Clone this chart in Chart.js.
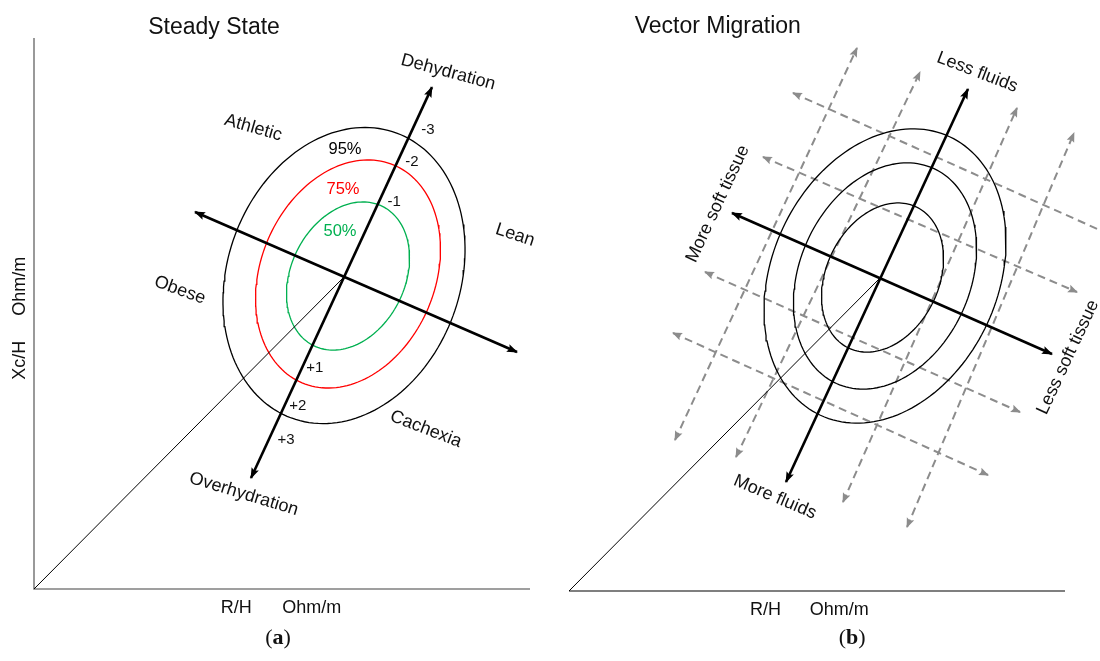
<!DOCTYPE html>
<html>
<head>
<meta charset="utf-8">
<script src="https://cdn.jsdelivr.net/npm/chart.js@4.4.1/dist/chart.umd.min.js"></script>
<style>
html,body{margin:0;padding:0;background:#fff;}
#wrap{position:relative;width:1100px;height:661px;overflow:hidden;}
canvas{position:absolute;top:0;}
#ca{left:0;}
#cb{left:550px;}
</style>
</head>
<body>
<div id="wrap">
<canvas id="ca" width="550" height="661"></canvas>
<canvas id="cb" width="550" height="661"></canvas>
</div>
<script>
// ================= DATA (arbitrary R/H and Xc/H units) =================
// ---- Panel (a) Steady State ----
const aAxisXRange = [0, 100];
const aAxisYRange = [0, 111];
const aCenter = [62.5, 62.85];
const aFluidAxisX = [43.75, 80.24];   // Overhydration -> Dehydration
const aFluidAxisY = [22.36, 101.1];
const aTissueAxisX = [97.38, 32.46];  // Lean/Cachexia -> Obese/Athletic
const aTissueAxisY = [47.74, 75.95];
const aEllipseNames = ['95%', '75%', '50%'];
const aEllipseCx = [62.5, 63.31, 63.31];
const aEllipseCy = [63.15, 63.46, 63.05];
const aEllipseMajor = [30.6, 23.81, 15.65];
const aEllipseMinor = [23.43, 17.56, 11.47];
const aEllipseTilt = [20.3, 22.9, 26.3];   // degrees from vertical
const aRegionLabels = ['Dehydration', 'Athletic', 'Lean', 'Obese', 'Cachexia', 'Overhydration'];
const aTickLabels = ['-3', '-2', '-1', '+1', '+2', '+3'];

// ---- Panel (b) Vector Migration ----
const bAxisXRange = [0, 100];
const bAxisYRange = [0, 111];
const bCenter = [62.7, 63.05];
const bFluidAxisX = [43.75, 80.44];   // More fluids -> Less fluids
const bFluidAxisY = [21.96, 101.13];
const bTissueAxisX = [97.38, 32.86];  // Less soft tissue -> More soft tissue
const bTissueAxisY = [47.74, 76.15];
const bEllipseCx = [63.71, 63.71, 63.21];
const bEllipseCy = [63.46, 63.46, 63.15];
const bEllipseMajor = [30.93, 23.77, 15.77];
const bEllipseMinor = [22.74, 17.18, 11.33];
const bEllipseTilt = [24.9, 24.3, 25.8];
// dashed migration vectors parallel to the fluid axis
const bFluidVecX1 = [21.37, 33.67, 55.24, 68.15];
const bFluidVecY1 = [30.42, 26.99, 17.93, 12.89];
const bFluidVecX2 = [58.06, 70.77, 90.32, 101.81];
const bFluidVecY2 = [109.39, 104.55, 97.30, 92.26];
// dashed migration vectors parallel to the soft-tissue axis
const bTissueVecX1 = [45.16, 39.11, 27.42, 20.97];
const bTissueVecY1 = [100.32, 87.43, 64.26, 51.97];
const bTissueVecX2 = [109.07, 102.42, 90.93, 84.48];
const bTissueVecY2 = [71.8, 60.23, 36.06, 23.37];
const bRegionLabels = ['Less fluids', 'More soft tissue', 'Less soft tissue', 'More fluids'];

// ================= HELPERS =================
function ellipsePoints(cx, cy, a, b, tiltDeg) {
  const th = tiltDeg * Math.PI / 180, pts = [];
  const N = 160;
  for (let k = 0; k <= N; k++) {
    const t = 2 * Math.PI * k / N;
    const ca = Math.cos(t) * a, sb = Math.sin(t) * b;
    pts.push({ x: cx + ca * Math.sin(th) + sb * Math.cos(th),
               y: cy + ca * Math.cos(th) - sb * Math.sin(th) });
  }
  return pts;
}
function seg(x, y) { return x.map((v, i) => ({ x: v, y: y[i] })); }
function lineDs(data, color, width, extra) {
  return Object.assign({ data, borderColor: color, backgroundColor: color, borderWidth: width,
    showLine: true, pointRadius: 0, pointHoverRadius: 0, fill: false, tension: 0, clip: false }, extra || {});
}

const arrowPlugin = {
  id: 'arrows',
  afterDatasetsDraw(chart) {
    const ctx = chart.ctx;
    chart.data.datasets.forEach((ds, i) => {
      if (!ds.arrow) return;
      const pts = chart.getDatasetMeta(i).data;
      if (pts.length < 2) return;
      const L = ds.arrowLength || 9, W = ds.arrowWidth || 4;
      const draw = (tip, from) => {
        const ang = Math.atan2(tip.y - from.y, tip.x - from.x);
        ctx.save();
        ctx.translate(tip.x, tip.y);
        ctx.rotate(ang);
        ctx.beginPath();
        ctx.moveTo(1, 0);
        ctx.lineTo(-L, W);
        ctx.lineTo(-L * 0.8, 0);
        ctx.lineTo(-L, -W);
        ctx.closePath();
        ctx.fillStyle = ds.borderColor;
        ctx.fill();
        ctx.restore();
      };
      const n = pts.length;
      if (ds.arrow === 'both' || ds.arrow === 'end') draw(pts[n - 1], pts[n - 2]);
      if (ds.arrow === 'both' || ds.arrow === 'start') draw(pts[0], pts[1]);
    });
  }
};

const textPlugin = {
  id: 'texts',
  afterDraw(chart, args, opts) {
    const ctx = chart.ctx, xs = chart.scales.x, ys = chart.scales.y;
    (opts.items || []).forEach(t => {
      ctx.save();
      ctx.translate(xs.getPixelForValue(t.x), ys.getPixelForValue(t.y));
      ctx.rotate((t.rot || 0) * Math.PI / 180);
      ctx.textBaseline = 'middle';
      ctx.fillStyle = t.color || '#111';
      if (t.parts) {
        let total = 0;
        t.parts.forEach(p => { ctx.font = p.font; total += ctx.measureText(p.text).width; });
        let cx = -total / 2;
        ctx.textAlign = 'left';
        t.parts.forEach(p => { ctx.font = p.font; ctx.fillText(p.text, cx, 0); cx += ctx.measureText(p.text).width; });
      } else {
        ctx.font = t.font;
        ctx.textAlign = 'center';
        ctx.fillText(t.text, 0, 0);
      }
      ctx.restore();
    });
  }
};

const SANS = '"Liberation Sans", Arial, Helvetica, sans-serif';
const F_LABEL = '18px ' + SANS;
const F_TITLE = '23px ' + SANS;
const F_AXIS = '18px ' + SANS;
const F_PCT = '16.5px ' + SANS;
const F_TICK = '15px ' + SANS;
const SERIF_N = '22px "Liberation Serif", "DejaVu Serif", serif';
const SERIF_B = 'bold 22px "Liberation Serif", "DejaVu Serif", serif';

function baseOptions(xr, yr, padding, items) {
  return {
    responsive: false, animation: false, devicePixelRatio: 1,
    layout: { padding },
    events: [],
    plugins: { legend: { display: false }, tooltip: { enabled: false }, texts: { items } },
    scales: {
      x: { type: 'linear', min: xr[0], max: xr[1], display: false },
      y: { type: 'linear', min: yr[0], max: yr[1], display: false }
    }
  };
}

// ================= PANEL (a) =================
const aColors = ['#000000', '#ff0000', '#00b050'];
const aDatasets = [
  lineDs(seg(aFluidAxisX, aFluidAxisY), '#000', 2.6, { arrow: 'both', arrowLength: 10, arrowWidth: 4 }),
  lineDs(seg(aTissueAxisX, aTissueAxisY), '#000', 2.6, { arrow: 'both', arrowLength: 10, arrowWidth: 4 }),
  lineDs([{ x: 0, y: 0 }, { x: aCenter[0], y: aCenter[1] }], '#000', 1),
  lineDs([{ x: 0, y: aAxisYRange[1] }, { x: 0, y: 0 }, { x: aAxisXRange[1], y: 0 }], '#808080', 1.6)
];
aEllipseNames.forEach((n, i) => {
  aDatasets.push(lineDs(ellipsePoints(aEllipseCx[i], aEllipseCy[i], aEllipseMajor[i], aEllipseMinor[i], aEllipseTilt[i]), aColors[i], 1.3, { label: n }));
});

const aItems = [
  { text: 'Steady State', x: 36.3, y: 113.0, font: F_TITLE },
  { text: aRegionLabels[0], x: 83.5, y: 104.1, rot: 15, font: F_LABEL },
  { text: aRegionLabels[1], x: 44.2, y: 92.9, rot: 16, font: F_LABEL },
  { text: aRegionLabels[2], x: 97.0, y: 71.3, rot: 18, font: F_LABEL },
  { text: aRegionLabels[3], x: 29.4, y: 60.2, rot: 20, font: F_LABEL },
  { text: aRegionLabels[4], x: 79.0, y: 32.2, rot: 21, font: F_LABEL },
  { text: aRegionLabels[5], x: 42.3, y: 19.1, rot: 17, font: F_LABEL },
  { text: aEllipseNames[0], x: 62.7, y: 88.6, font: F_PCT, color: aColors[0] },
  { text: aEllipseNames[1], x: 62.3, y: 80.4, font: F_PCT, color: aColors[1] },
  { text: aEllipseNames[2], x: 61.7, y: 72.1, font: F_PCT, color: aColors[2] },
  { text: aTickLabels[0], x: 79.4, y: 92.5, font: F_TICK },
  { text: aTickLabels[1], x: 76.2, y: 86.0, font: F_TICK },
  { text: aTickLabels[2], x: 72.6, y: 78.0, font: F_TICK },
  { text: aTickLabels[3], x: 56.6, y: 44.5, font: F_TICK },
  { text: aTickLabels[4], x: 53.2, y: 36.9, font: F_TICK },
  { text: aTickLabels[5], x: 50.8, y: 30.0, font: F_TICK },
  { text: 'R/H', x: 40.8, y: -3.8, font: F_AXIS },
  { text: 'Ohm/m', x: 56.0, y: -3.8, font: F_AXIS },
  { text: 'Xc/H', x: -2.8, y: 46.1, rot: -90, font: F_AXIS },
  { text: 'Ohm/m', x: -2.8, y: 61.0, rot: -90, font: F_AXIS },
  { parts: [{ text: '(', font: SERIF_N }, { text: 'a', font: SERIF_B }, { text: ')', font: SERIF_N }], x: 49.2, y: -9.9 }
];

new Chart(document.getElementById('ca'), {
  type: 'scatter',
  data: { datasets: aDatasets },
  options: baseOptions(aAxisXRange, aAxisYRange, { left: 34, right: 20, top: 38, bottom: 72 }, aItems),
  plugins: [arrowPlugin, textPlugin]
});

// ================= PANEL (b) =================
const bDatasets = [
  lineDs(seg(bFluidAxisX, bFluidAxisY), '#000', 2.6, { arrow: 'both', arrowLength: 10, arrowWidth: 4 }),
  lineDs(seg(bTissueAxisX, bTissueAxisY), '#000', 2.6, { arrow: 'both', arrowLength: 10, arrowWidth: 4 }),
  lineDs([{ x: 0, y: 0 }, { x: bCenter[0], y: bCenter[1] }], '#000', 1),
  lineDs([{ x: bAxisXRange[0], y: 0 }, { x: bAxisXRange[1], y: 0 }], '#555', 1.6)
];
bEllipseCx.forEach((c, i) => {
  bDatasets.push(lineDs(ellipsePoints(bEllipseCx[i], bEllipseCy[i], bEllipseMajor[i], bEllipseMinor[i], bEllipseTilt[i]), '#000', 1.3));
});
bFluidVecX1.forEach((v, i) => {
  bDatasets.push(lineDs([{ x: bFluidVecX1[i], y: bFluidVecY1[i] }, { x: bFluidVecX2[i], y: bFluidVecY2[i] }], '#8c8c8c', 2,
    { borderDash: [8, 5], arrow: 'both', arrowLength: 9, arrowWidth: 4 }));
});
bTissueVecX1.forEach((v, i) => {
  bDatasets.push(lineDs([{ x: bTissueVecX1[i], y: bTissueVecY1[i] }, { x: bTissueVecX2[i], y: bTissueVecY2[i] }], '#8c8c8c', 2,
    { borderDash: [8, 5], arrow: 'both', arrowLength: 9, arrowWidth: 4 }));
});

const bItems = [
  { text: 'Vector Migration', x: 30.0, y: 113.6, font: F_TITLE },
  { text: bRegionLabels[0], x: 82.3, y: 104.5, rot: 21, font: F_LABEL },
  { text: bRegionLabels[1], x: 30.0, y: 78.0, rot: -65, font: F_LABEL },
  { text: bRegionLabels[2], x: 100.6, y: 47.1, rot: -65, font: F_LABEL },
  { text: bRegionLabels[3], x: 41.5, y: 18.9, rot: 23, font: F_LABEL },
  { text: 'R/H', x: 39.6, y: -3.8, font: F_AXIS },
  { text: 'Ohm/m', x: 54.5, y: -3.8, font: F_AXIS },
  { parts: [{ text: '(', font: SERIF_N }, { text: 'b', font: SERIF_B }, { text: ')', font: SERIF_N }], x: 57.1, y: -9.5 }
];

new Chart(document.getElementById('cb'), {
  type: 'scatter',
  data: { datasets: bDatasets },
  options: baseOptions(bAxisXRange, bAxisYRange, { left: 19, right: 35, top: 40, bottom: 70 }, bItems),
  plugins: [arrowPlugin, textPlugin]
});
</script>
</body>
</html>
